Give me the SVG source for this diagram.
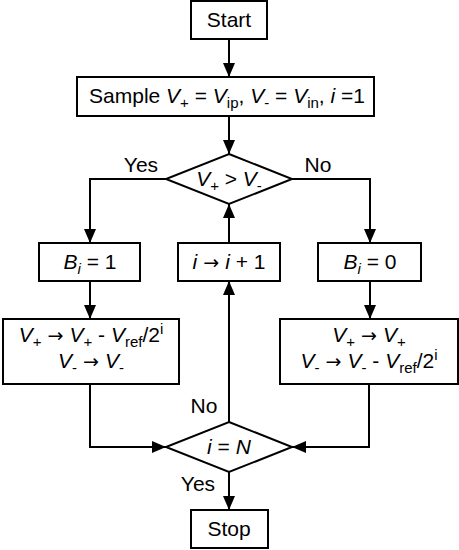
<svg xmlns="http://www.w3.org/2000/svg" width="459" height="550" viewBox="0 0 459 550">
<defs>
<style>
.box{fill:#fff;stroke:#000;stroke-width:2}
.ln{fill:none;stroke:#000;stroke-width:2}
text{font-family:"Liberation Sans",Arial,sans-serif;font-size:21px;fill:#000}
.t{text-anchor:middle}
.it{font-style:italic}
.s{font-size:15px}
.ar{font-family:"DejaVu Sans",sans-serif;font-size:19px}
</style>
<marker id="ah" markerUnits="userSpaceOnUse" markerWidth="14" markerHeight="14" refX="14" refY="6" orient="auto">
<path d="M0,0 L14,6 L0,12 Z" fill="#000"/>
</marker>
</defs>
<g id="connectors">
<path class="ln" d="M229,39 V77" marker-end="url(#ah)"/>
<path class="ln" d="M229,116 V154" marker-end="url(#ah)"/>
<path class="ln" d="M166,179 H90 V243" marker-end="url(#ah)"/>
<path class="ln" d="M292,179 H370 V243" marker-end="url(#ah)"/>
<path class="ln" d="M90,281 V319" marker-end="url(#ah)"/>
<path class="ln" d="M370,281 V319" marker-end="url(#ah)"/>
<path class="ln" d="M90,384 V447 H166" marker-end="url(#ah)"/>
<path class="ln" d="M369,384 V447 H292" marker-end="url(#ah)"/>
<path class="ln" d="M229,422 V281" marker-end="url(#ah)"/>
<path class="ln" d="M229,243 V204" marker-end="url(#ah)"/>
<path class="ln" d="M229,472 V510" marker-end="url(#ah)"/>
<text x="141" y="172" class="t">Yes</text>
<text x="318" y="172" class="t">No</text>
<text x="204" y="413" class="t">No</text>
<text x="198" y="491" class="t">Yes</text>
</g>
<g id="start">
<rect class="box" x="191" y="1" width="76" height="38"/>
<text x="229" y="27" class="t">Start</text>
</g>
<g id="sample">
<rect class="box" x="77" y="77" width="297" height="39"/>
<text x="227" y="103" class="t">Sample <tspan class="it">V</tspan><tspan class="s" dy="5">+</tspan><tspan dy="-5"> = </tspan><tspan class="it">V</tspan><tspan class="s" dy="5">ip</tspan><tspan dy="-5">, </tspan><tspan class="it">V</tspan><tspan class="s" dy="5">-</tspan><tspan dy="-5"> = </tspan><tspan class="it">V</tspan><tspan class="s" dy="5">in</tspan><tspan dy="-5">, </tspan><tspan class="it">i</tspan> =1</text>
</g>
<g id="compare">
<polygon class="box" points="229,154 292,179 229,204 166,179"/>
<text x="229" y="186" class="t"><tspan class="it">V</tspan><tspan class="s" dy="5">+</tspan><tspan dy="-5"> &gt; </tspan><tspan class="it">V</tspan><tspan class="s" dy="5">-</tspan></text>
</g>
<g id="bi1">
<rect class="box" x="39" y="243" width="101" height="38"/>
<text x="90" y="269" class="t"><tspan class="it">B</tspan><tspan class="s it" dy="5">i</tspan><tspan dy="-5"> = 1</tspan></text>
</g>
<g id="inc">
<rect class="box" x="178" y="243" width="102" height="38"/>
<text x="229" y="269" class="t"><tspan class="it">i</tspan><tspan class="ar"> → </tspan><tspan class="it">i</tspan> + 1</text>
</g>
<g id="bi0">
<rect class="box" x="318" y="243" width="103" height="38"/>
<text x="370" y="269" class="t"><tspan class="it">B</tspan><tspan class="s it" dy="5">i</tspan><tspan dy="-5"> = 0</tspan></text>
</g>
<g id="updL">
<rect class="box" x="3" y="319" width="176" height="65"/>
<text x="91" y="342" class="t"><tspan class="it">V</tspan><tspan class="s" dy="5">+</tspan><tspan class="ar" dy="-5"> → </tspan><tspan class="it">V</tspan><tspan class="s" dy="5">+</tspan><tspan dy="-5"> - </tspan><tspan class="it">V</tspan><tspan class="s" dy="5">ref</tspan><tspan dy="-5">/2</tspan><tspan class="s" dy="-8">i</tspan></text>
<text x="91" y="368" class="t"><tspan class="it">V</tspan><tspan class="s" dy="5">-</tspan><tspan class="ar" dy="-5"> → </tspan><tspan class="it">V</tspan><tspan class="s" dy="5">-</tspan></text>
</g>
<g id="updR">
<rect class="box" x="280" y="319" width="178" height="65"/>
<text x="369" y="342" class="t"><tspan class="it">V</tspan><tspan class="s" dy="5">+</tspan><tspan class="ar" dy="-5"> → </tspan><tspan class="it">V</tspan><tspan class="s" dy="5">+</tspan></text>
<text x="369" y="368" class="t"><tspan class="it">V</tspan><tspan class="s" dy="5">-</tspan><tspan class="ar" dy="-5"> → </tspan><tspan class="it">V</tspan><tspan class="s" dy="5">-</tspan><tspan dy="-5"> - </tspan><tspan class="it">V</tspan><tspan class="s" dy="5">ref</tspan><tspan dy="-5">/2</tspan><tspan class="s" dy="-8">i</tspan></text>
</g>
<g id="check">
<polygon class="box" points="229,422 292,447 229,472 166,447"/>
<text x="229" y="454" class="t"><tspan class="it">i</tspan> = <tspan class="it">N</tspan></text>
</g>
<g id="stop">
<rect class="box" x="191" y="510" width="77" height="38"/>
<text x="229" y="536" class="t">Stop</text>
</g>
</svg>
